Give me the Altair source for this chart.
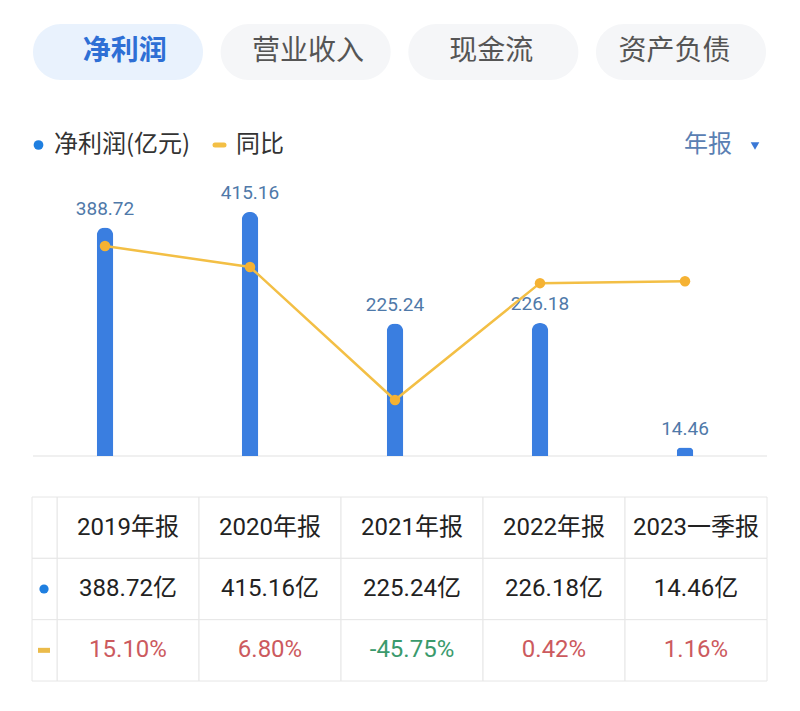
import altair as alt
import pandas as pd

# ---------------- data ----------------
tabs = ["净利润", "营业收入", "现金流", "资产负债"]
selected_tab = "净利润"
periods = ["2019年报", "2020年报", "2021年报", "2022年报", "2023一季报"]
profit = [388.72, 415.16, 225.24, 226.18, 14.46]      # 净利润(亿元)
yoy = [15.10, 6.80, -45.75, 0.42, 1.16]               # 同比 (%)
legend_profit = "净利润(亿元)"
legend_yoy = "同比"
period_type = "年报"

FONT = "Roboto, 'Noto Sans CJK SC', sans-serif"
CJK = "'Noto Sans CJK SC', sans-serif"
BLUE = "#3a7ee0"
GOLD = "#f3bf45"
LABEL = "#4f79a9"

df = pd.DataFrame({"period": periods, "profit": profit, "yoy": yoy})
tab_df = pd.DataFrame({"tab": tabs})

rows = ["h", "v", "g"]
tbl = []
for p, v, g in zip(periods, profit, yoy):
    tbl.append({"period": p, "row": "h", "text": p, "cls": "n"})
    tbl.append({"period": p, "row": "v", "text": f"{v:.2f}亿", "cls": "n"})
    tbl.append({"period": p, "row": "g", "text": f"{g:.2f}%", "cls": "up" if g >= 0 else "down"})
tbl_df = pd.DataFrame(tbl)
one = pd.DataFrame({"k": [0]})

# ---------------- scales ----------------
tab_x = alt.X("tab:N", sort=tabs, axis=None,
              scale=alt.Scale(domain=tabs, range=[25, 758], paddingInner=0.094, paddingOuter=0))
bar_x = alt.X("period:N", sort=periods, axis=None,
              scale=alt.Scale(domain=periods, range=[24.5, 749.5],
                              paddingInner=0.886, paddingOuter=0.443))
bar_y = alt.Y("profit:Q", axis=None, scale=alt.Scale(domain=[0, 500], range=[448, 154.1]))
yoy_y = alt.Y("yoy:Q", axis=None, scale=alt.Scale(domain=[-50, 20], range=[402.75, 225.6]))
tbl_x = alt.X("period:N", sort=periods, axis=None,
              scale=alt.Scale(domain=periods, range=[49, 759], paddingInner=0, paddingOuter=0))
tbl_y = alt.Y("row:N", sort=rows, axis=None,
              scale=alt.Scale(domain=rows, range=[489, 673], paddingInner=0, paddingOuter=0))

# ---------------- tabs ----------------
tab_bg = alt.Chart(tab_df).mark_rect(cornerRadius=28).encode(
    x=tab_x, y=alt.value(16), y2=alt.value(72),
    color=alt.condition(alt.datum.tab == selected_tab, alt.value("#e9f2fd"), alt.value("#f5f6f8")),
)
tab_sel = alt.Chart(tab_df).transform_filter(alt.datum.tab == selected_tab).mark_text(
    font=CJK, fontSize=28, fontWeight="bold", color="#2e6fd5", baseline="middle"
).encode(x=tab_x, y=alt.value(44), text="tab:N")
tab_other = alt.Chart(tab_df).transform_filter(alt.datum.tab != selected_tab).mark_text(
    font=CJK, fontSize=28, color="#555555", baseline="middle"
).encode(x=tab_x, y=alt.value(44), text="tab:N")

# ---------------- legend row ----------------
leg_dot = alt.Chart(one).mark_circle(size=95, color="#1f7fe0", opacity=1).encode(
    x=alt.value(30.5), y=alt.value(137))
leg_t1 = alt.Chart(pd.DataFrame({"t": [legend_profit]})).mark_text(
    font=CJK, fontSize=24, color="#333333", align="left", baseline="middle"
).encode(x=alt.value(46), y=alt.value(137), text="t:N")
leg_dash = alt.Chart(one).mark_rule(color=GOLD, strokeWidth=5, strokeCap="round").encode(
    x=alt.value(207), x2=alt.value(216), y=alt.value(137))
leg_t2 = alt.Chart(pd.DataFrame({"t": [legend_yoy]})).mark_text(
    font=CJK, fontSize=24, color="#333333", align="left", baseline="middle"
).encode(x=alt.value(228), y=alt.value(137), text="t:N")
leg_t3 = alt.Chart(pd.DataFrame({"t": [period_type]})).mark_text(
    font=CJK, fontSize=24, color="#5a80b3", align="left", baseline="middle"
).encode(x=alt.value(676), y=alt.value(137), text="t:N")
leg_tri = alt.Chart(one).mark_point(shape="triangle-down", filled=True, size=75,
                                    color="#3a78d6", opacity=1).encode(
    x=alt.value(747), y=alt.value(138))

# ---------------- main chart ----------------
baseline = alt.Chart(one).mark_rule(color="#e2e2e2", strokeWidth=1.2).encode(
    x=alt.value(25), x2=alt.value(759), y=alt.value(448))
bars = alt.Chart(df).mark_bar(color=BLUE, cornerRadiusTopLeft=8, cornerRadiusTopRight=8).encode(
    x=bar_x, y=bar_y)
labels = alt.Chart(df).mark_text(font=FONT, fontSize=19, color=LABEL, dy=-13,
                                 baseline="alphabetic").encode(
    x=bar_x, y=bar_y, text=alt.Text("profit:Q", format=".2f"))
line = alt.Chart(df).mark_line(color=GOLD, strokeWidth=2.5).encode(x=bar_x, y=yoy_y)
pts = alt.Chart(df).mark_circle(size=110, color="#f5b233", opacity=1).encode(x=bar_x, y=yoy_y)

# ---------------- table ----------------
cells = alt.Chart(tbl_df).mark_rect(fill="white", stroke="#e6e6e6", strokeWidth=1).encode(
    x=tbl_x, y=tbl_y)
side_cells = alt.Chart(pd.DataFrame({"row": rows})).mark_rect(
    fill="white", stroke="#e6e6e6", strokeWidth=1).encode(
    x=alt.value(24), x2=alt.value(49), y=tbl_y)
cell_text = alt.Chart(tbl_df).mark_text(font=FONT, fontSize=24, baseline="middle").encode(
    x=tbl_x, y=tbl_y, text="text:N",
    color=alt.Color("cls:N", legend=None,
                    scale=alt.Scale(domain=["n", "up", "down"],
                                    range=["#222222", "#cc5a5e", "#3a9a6c"])))
side_dot = alt.Chart(pd.DataFrame({"row": ["v"]})).mark_circle(
    size=85, color="#1f7fe0", opacity=1).encode(x=alt.value(36), y=tbl_y)
side_dash = alt.Chart(pd.DataFrame({"row": ["g"]})).mark_tick(
    color="#ebbb4a", thickness=5, size=12, orient="horizontal", opacity=1).encode(
    x=alt.value(36), y=tbl_y)

chart = alt.layer(
    tab_bg, tab_sel, tab_other,
    leg_dot, leg_t1, leg_dash, leg_t2, leg_t3, leg_tri,
    baseline, bars, labels, line, pts,
    cells, side_cells, cell_text, side_dot, side_dash,
).resolve_scale(
    x="independent", y="independent", color="independent"
).properties(
    width=784, height=695, padding=0, autosize="none", background="white"
).configure_view(stroke=None)

chart.save("out.html", embed_options={"renderer": "svg", "actions": False})
